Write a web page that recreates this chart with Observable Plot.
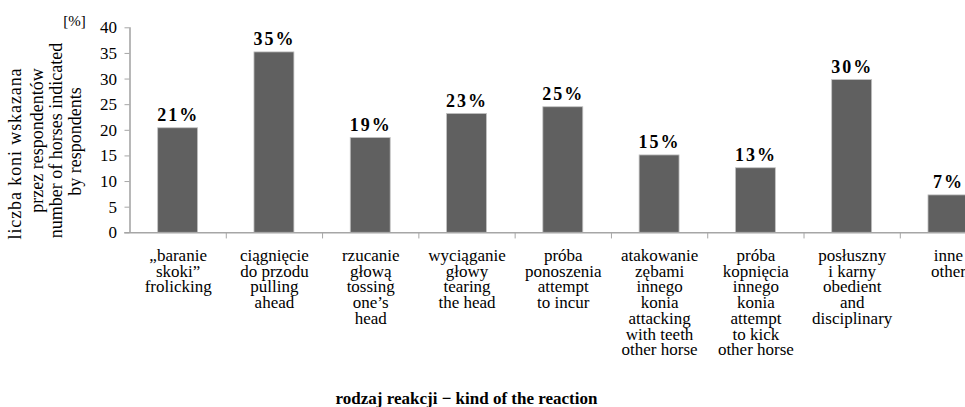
<!DOCTYPE html>
<html>
<head>
<meta charset="utf-8">
<script src="https://cdn.jsdelivr.net/npm/d3@7"></script>
<script src="https://cdn.jsdelivr.net/npm/@observablehq/plot@0.6"></script>
<style>
  html, body { margin: 0; padding: 0; background: #fff; overflow: hidden; }
  #chart { width: 965px; height: 407px; }
  #chart svg, #chart svg text { font-family: "Liberation Serif", "Times New Roman", serif !important; }
</style>
</head>
<body>
<div id="chart"></div>
<script>
// ---- data ----
const categories = [
  "„baranie\nskoki”\nfrolicking",
  "ciągnięcie\ndo przodu\npulling\nahead",
  "rzucanie\ngłową\ntossing\none’s\nhead",
  "wyciąganie\ngłowy\ntearing\nthe head",
  "próba\nponoszenia\nattempt\nto incur",
  "atakowanie\nzębami\ninnego\nkonia\nattacking\nwith teeth\nother horse",
  "próba\nkopnięcia\ninnego\nkonia\nattempt\nto kick\nother horse",
  "posłuszny\ni karny\nobedient\nand\ndisciplinary",
  "inne\nother"
];
const values = [20.4, 35.2, 18.5, 23.2, 24.5, 15.1, 12.6, 29.8, 7.3];
const valueLabels = ["21%", "35%", "19%", "23%", "25%", "15%", "13%", "30%", "7%"];
const yTicks = [0, 5, 10, 15, 20, 25, 30, 35, 40];
const yTitleLines = ["liczba koni wskazana", "przez respondentów", "number of horses indicated", "by respondents"];
const yUnit = "[%]";
const xTitle = "rodzaj reakcji − kind of the reaction";

const data = categories.map((c, i) => ({i, cat: c, value: values[i], label: valueLabels[i]}));

// ---- layout ----
const W = 965, H = 407;
const mL = 129.5, mT = 27.3, mB = H - 232.3;
const frameMidY = (mT + (H - mB)) / 2;
const half = 0.2075; // half bar width as a fraction of the category step
const axisGray = "#a6a6a6";
const serif = "Liberation Serif";
// screen centres of the rotated y-title lines
const titleCx = [15, 36.5, 55.5, 75];
const titleCy = [153, 140, 140, 141];

const chart = Plot.plot({
  width: W,
  height: H,
  marginLeft: mL,
  marginRight: 0,
  marginTop: mT,
  marginBottom: mB,
  style: {fontFamily: serif, fontSize: "17px", color: "#000", background: "#fff"},
  x: {type: "linear", domain: [0, categories.length], range: [129.5, 996.1], axis: null},
  y: {domain: [0, 40], axis: null},
  marks: [
    Plot.rect(data, {
      x1: d => d.i + 0.5 - half, x2: d => d.i + 0.5 + half,
      y1: 0, y2: "value",
      fill: "#606060", stroke: "#c4c4c4", strokeWidth: 0.8
    }),
    // axes lines
    Plot.ruleX([0], {y1: 0, y2: 40, stroke: axisGray, strokeWidth: 1.6}),
    Plot.ruleY([0], {x1: -0.055, x2: categories.length, stroke: axisGray, strokeWidth: 1.6}),
    // category boundary ticks
    Plot.ruleX(d3.range(1, categories.length + 1), {y1: 0, y2: -1.2, stroke: axisGray, strokeWidth: 1}),
    Plot.axisY({ticks: yTicks, tickSize: 5, tickPadding: 8, stroke: axisGray, fill: "#000", fontSize: 17, fontFamily: serif, label: null}),
    // value labels
    Plot.text(data, {
      x: d => d.i + 0.5, y: "value", text: "label",
      dy: -7, lineAnchor: "bottom", textAnchor: "middle",
      fontWeight: "bold", fontSize: 18, fontFamily: serif, fill: "#000"
    }),
    // category labels
    Plot.text(data, {
      x: d => d.i + 0.5, y: 0, text: "cat",
      dy: 17, lineAnchor: "top", textAnchor: "middle",
      lineHeight: 0.925, fontSize: 17, fontFamily: serif, fill: "#000"
    }),
    // y title, one mark per line
    ...yTitleLines.map((line, k) => Plot.text([line], {
      frameAnchor: "left", rotate: -90,
      dx: titleCx[k] - mL, dy: titleCy[k] - frameMidY,
      textAnchor: "middle", lineAnchor: "middle",
      fontSize: 18, fontFamily: serif, fill: "#000"
    })),
    Plot.text([yUnit], {
      frameAnchor: "top-left", dx: 74 - mL, dy: 21 - mT,
      textAnchor: "middle", lineAnchor: "middle", fontSize: 15, fontFamily: serif, fill: "#000"
    }),
    // x title
    Plot.text([xTitle], {
      frameAnchor: "bottom", dx: 466 - (mL + W) / 2, dy: 166,
      textAnchor: "middle", lineAnchor: "middle",
      fontWeight: "bold", fontSize: 17, fontFamily: serif, fill: "#000"
    })
  ]
});

const sel = d3.select(chart).selectAll("text");
sel.filter(function() { return valueLabels.includes(this.textContent); }).attr("letter-spacing", "2px");
sel.filter(function() { return this.textContent === yTitleLines[0]; }).attr("letter-spacing", "0.9px");

document.getElementById("chart").appendChild(chart);
</script>
</body>
</html>
